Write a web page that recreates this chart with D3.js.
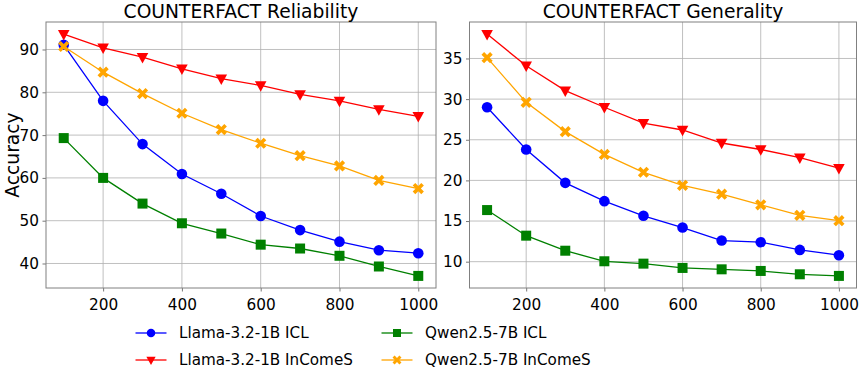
<!DOCTYPE html>
<html><head><meta charset="utf-8">
<script src="https://cdn.jsdelivr.net/npm/d3@7/dist/d3.min.js"></script>
<style>body{margin:0;background:#fff}svg{display:block}text{font-family:"DejaVu Sans",sans-serif}</style>
</head><body><svg id="c" width="864" height="372"></svg>
<script>
const xs = [100,200,300,400,500,600,700,800,900,1000];
const xTicks = [200,400,600,800,1000];
const seriesNames = ["Llama-3.2-1B ICL","Llama-3.2-1B InComeS","Qwen2.5-7B ICL","Qwen2.5-7B InComeS"];
const seriesColors = ["#0000ff","#ff0000","#008000","#ffa500"];
const seriesMarkers = ["circle","triangle","square","x"];
// Reliability
const relLlamaICL = [91.1,78.0,67.9,60.9,56.3,51.1,47.8,45.1,43.1,42.4];
const relLlamaInComeS = [93.6,90.4,88.2,85.5,83.2,81.6,79.5,78.0,76.0,74.4];
const relQwenICL = [69.3,60.0,54.0,49.4,47.0,44.4,43.5,41.8,39.3,37.1];
const relQwenInComeS = [90.7,84.7,79.7,75.1,71.3,68.1,65.2,62.8,59.4,57.5];
const relTicks = [40,50,60,70,80,90];
// Generality
const genLlamaICL = [29.0,23.8,19.7,17.45,15.65,14.2,12.6,12.4,11.45,10.8];
const genLlamaInComeS = [38.0,34.1,31.05,29.0,27.05,26.2,24.6,23.8,22.8,21.5];
const genQwenICL = [16.35,13.2,11.35,10.05,9.76,9.23,9.06,8.86,8.45,8.25];
const genQwenInComeS = [35.1,29.6,26.0,23.2,21.0,19.4,18.3,17.0,15.7,15.05];
const genTicks = [10,15,20,25,30,35];

const panels = [
  {title:"COUNTERFACT Reliability", data:[relLlamaICL,relLlamaInComeS,relQwenICL,relQwenInComeS], ticks:relTicks, x0:46, x1:436, ylabel:"Accuracy"},
  {title:"COUNTERFACT Generality", data:[genLlamaICL,genLlamaInComeS,genQwenICL,genQwenInComeS], ticks:genTicks, x0:469.5, x1:856.5, ylabel:null}
];
const plotTop=22, plotBottom=288;
const svg = d3.select("#c");

function marker(g, type, color, cx, cy, s){
  if(type==="circle") g.append("circle").attr("cx",cx).attr("cy",cy).attr("r",5.3*s).attr("fill",color);
  else if(type==="square") g.append("rect").attr("x",cx-5*s).attr("y",cy-5*s).attr("width",10*s).attr("height",10*s).attr("fill",color);
  else if(type==="triangle") g.append("path").attr("d",`M${cx-5.8*s},${cy-4.2*s}L${cx+5.8*s},${cy-4.2*s}L${cx},${cy+6.3*s}Z`).attr("fill",color);
  else {
    const a=5.6*s,w=2.6*s;
    const pts=[[-a,-a+w],[-a+w,-a],[0,-w],[a-w,-a],[a,-a+w],[w,0],[a,a-w],[a-w,a],[0,w],[-a+w,a],[-a,a-w],[-w,0]];
    g.append("path").attr("d","M"+pts.map(q=>(cx+q[0])+","+(cy+q[1])).join("L")+"Z").attr("fill",color);
  }
}

panels.forEach(p=>{
  const all = p.data.flat();
  const mn=d3.min(all), mx=d3.max(all), pad=(mx-mn)*0.05;
  const x = d3.scaleLinear().domain([55,1045]).range([p.x0,p.x1]);
  const y = d3.scaleLinear().domain([mn-pad,mx+pad]).range([plotBottom,plotTop]);
  const g = svg.append("g");
  g.append("g").selectAll("line").data(xTicks).join("line")
    .attr("x1",d=>x(d)).attr("x2",d=>x(d)).attr("y1",plotTop).attr("y2",plotBottom)
    .attr("stroke","#b0b0b0").attr("stroke-width",0.8);
  g.append("g").selectAll("line").data(p.ticks).join("line")
    .attr("x1",p.x0).attr("x2",p.x1).attr("y1",d=>y(d)).attr("y2",d=>y(d))
    .attr("stroke","#b0b0b0").attr("stroke-width",0.8);
  const xa = g.append("g").attr("transform",`translate(0,${plotBottom})`)
    .call(d3.axisBottom(x).tickValues(xTicks).tickSize(3.5).tickPadding(3.5).tickFormat(d3.format("d")));
  const ya = g.append("g").attr("transform",`translate(${p.x0},0)`)
    .call(d3.axisLeft(y).tickValues(p.ticks).tickSize(3.5).tickPadding(3.5).tickFormat(d3.format("d")));
  [xa,ya].forEach(a=>{a.select(".domain").remove();
    a.selectAll("line").attr("stroke","#555").attr("stroke-width",0.8);
    a.selectAll("text").attr("font-size",15.3).attr("fill","#000").attr("font-family","DejaVu Sans");});
  xa.selectAll("text").attr("dy","0.95em");
  g.append("rect").attr("x",p.x0).attr("y",plotTop).attr("width",p.x1-p.x0).attr("height",plotBottom-plotTop)
    .attr("fill","none").attr("stroke","#808080").attr("stroke-width",1);
  p.data.forEach((vals,i)=>{
    const line = d3.line().x((d,j)=>x(xs[j])).y(d=>y(d));
    g.append("path").attr("d",line(vals)).attr("fill","none").attr("stroke",seriesColors[i]).attr("stroke-width",1.3);
  });
  p.data.forEach((vals,i)=>{
    const mg = g.append("g");
    vals.forEach((v,j)=>marker(mg,seriesMarkers[i],seriesColors[i],x(xs[j]),y(v),1));
  });
  g.append("text").attr("x",(p.x0+p.x1)/2).attr("y",18).attr("text-anchor","middle")
    .attr("font-size",18.7).text(p.title);
  if(p.ylabel) g.append("text").attr("transform",`translate(19,155) rotate(-90)`).attr("text-anchor","middle")
    .attr("font-size",18.7).text(p.ylabel);
});

const legPos = [[135.5,333],[135.5,360],[381.5,333],[381.5,360]];
seriesNames.forEach((n,i)=>{
  const [lx,ly]=legPos[i];
  const g = svg.append("g");
  g.append("line").attr("x1",lx).attr("x2",lx+31).attr("y1",ly).attr("y2",ly).attr("stroke",seriesColors[i]).attr("stroke-width",1.3);
  marker(g,seriesMarkers[i],seriesColors[i],lx+15.5,ly,0.8);
  g.append("text").attr("x",lx+43.5).attr("y",ly).attr("dy","0.36em").attr("font-size",15.2).text(n);
});
</script></body></html>
